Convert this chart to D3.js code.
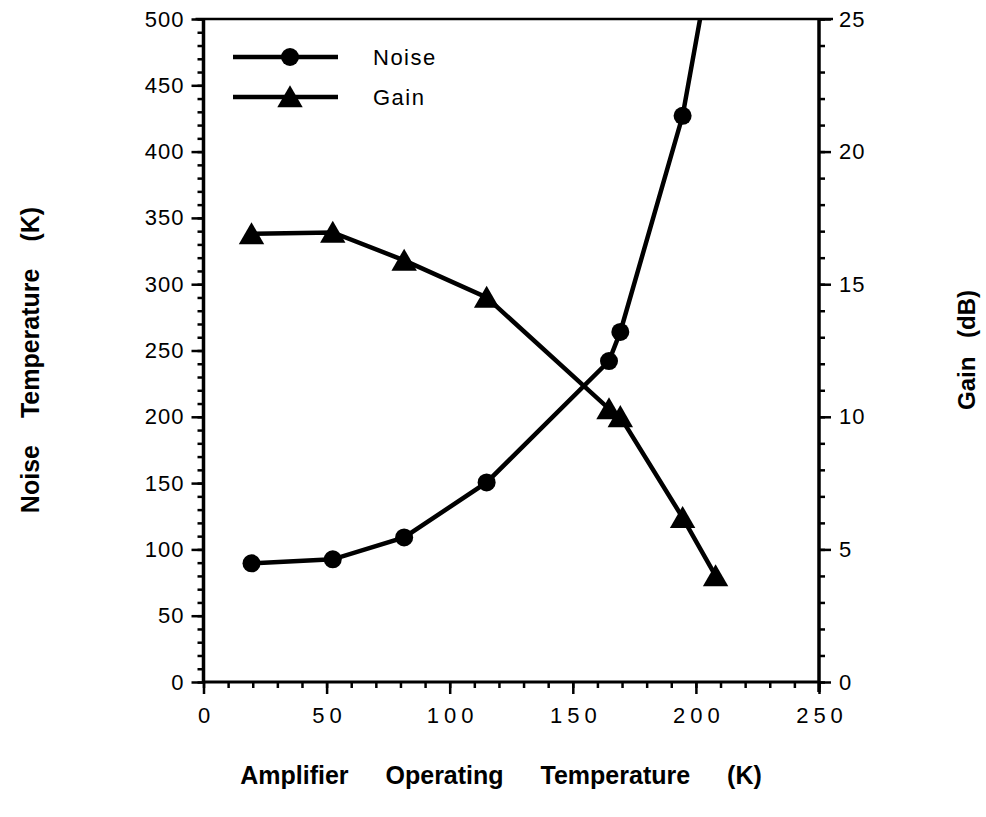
<!DOCTYPE html>
<html>
<head>
<meta charset="utf-8">
<script src="https://cdn.jsdelivr.net/npm/d3@7"></script>
<style>
  body { margin: 0; background: #fff; }
  svg { display: block; }
  .tick text { font-family: "Liberation Sans", Arial, sans-serif; font-size: 22px; fill: #000; }
  .title { font-family: "Liberation Sans", Arial, sans-serif; font-size: 25px; font-weight: bold; fill: #000; }
  .legend text { font-family: "Liberation Sans", Arial, sans-serif; font-size: 22px; letter-spacing: 1.5px; fill: #000; }
</style>
</head>
<body>
<div id="chart"></div>
<script>
// chart data
var temps  = [19.5, 52.5, 81.5, 115, 164.7, 169.3, 194.6, 208];   // amplifier operating temperature (K)
var noiseK = [89.5, 92.5, 109, 150.5, 242, 264, 427, 565];         // noise temperature (K), last one is off the top
var gainDb = [16.9, 16.95, 15.9, 14.5, 10.3, 10.0, 6.2, 4.0];      // gain (dB)

var xTicks = [0, 50, 100, 150, 200, 250];
var yLeftTicks = [0, 50, 100, 150, 200, 250, 300, 350, 400, 450, 500];
var yRightTicks = [0, 5, 10, 15, 20, 25];
var seriesNames = ["Noise", "Gain"];

var width = 986,
    height = 817;

var svg = d3.select("#chart").append("svg")
    .attr("width", width)
    .attr("height", height);

var x = d3.scaleLinear().domain([0, 250]).range([203.5, 819]);
var yL = d3.scaleLinear().domain([0, 500]).range([682, 19]);
var yR = d3.scaleLinear().domain([0, 25]).range([682, 19]);

// clip so the noise curve stops at the top of the frame
svg.append("clipPath").attr("id", "plot")
  .append("rect")
    .attr("x", x(0)).attr("y", yL(500))
    .attr("width", x(250) - x(0)).attr("height", yL(0) - yL(500));

// minor ticks first, then major ticks with labels
function minor(step, max) { return d3.range(0, max + 0.001, step); }

svg.append("g").attr("transform", "translate(0," + yL(0) + ")")
    .call(d3.axisBottom(x).tickValues(minor(10, 250)).tickSize(6).tickFormat(""));
var xAxis = svg.append("g").attr("transform", "translate(0," + yL(0) + ")")
    .call(d3.axisBottom(x).tickValues(xTicks).tickSize(12).tickPadding(13));
xAxis.selectAll(".tick text").style("letter-spacing", "5px").attr("dx", "2.5px");

svg.append("g").attr("transform", "translate(" + x(0) + ",0)")
    .call(d3.axisLeft(yL).tickValues(minor(10, 500)).tickSize(6).tickFormat(""));
var yAxisL = svg.append("g").attr("transform", "translate(" + x(0) + ",0)")
    .call(d3.axisLeft(yL).tickValues(yLeftTicks).tickSize(12).tickPadding(7));
yAxisL.selectAll(".tick text").style("letter-spacing", "1px");

svg.append("g").attr("transform", "translate(" + x(250) + ",0)")
    .call(d3.axisRight(yR).tickValues(minor(1, 25)).tickSize(6).tickFormat(""));
var yAxisR = svg.append("g").attr("transform", "translate(" + x(250) + ",0)")
    .call(d3.axisRight(yR).tickValues(yRightTicks).tickSize(12).tickPadding(8));
yAxisR.selectAll(".tick text").style("letter-spacing", "1px");

svg.selectAll(".domain").remove();
svg.selectAll(".tick line").attr("stroke", "#000").attr("stroke-width", 2.5);

// frame
svg.append("line").attr("x1", x(0)).attr("x2", x(0)).attr("y1", yL(500)).attr("y2", yL(0))
    .attr("stroke", "#000").attr("stroke-width", 3.5);
svg.append("line").attr("x1", x(250)).attr("x2", x(250)).attr("y1", yL(500)).attr("y2", yL(0) + 10)
    .attr("stroke", "#000").attr("stroke-width", 3.5);
svg.append("line").attr("x1", x(0)).attr("x2", x(250) + 1).attr("y1", yL(0)).attr("y2", yL(0))
    .attr("stroke", "#000").attr("stroke-width", 3);
svg.append("line").attr("x1", x(0) - 8).attr("x2", x(250) + 14).attr("y1", yL(500)).attr("y2", yL(500))
    .attr("stroke", "#000").attr("stroke-width", 2.5);

var noise = temps.map(function(t, i) { return [t, noiseK[i]]; });
var gain = temps.map(function(t, i) { return [t, gainDb[i]]; });

var plot = svg.append("g").attr("clip-path", "url(#plot)");

plot.append("path")
    .datum(noise)
    .attr("fill", "none").attr("stroke", "#000").attr("stroke-width", 4.5)
    .attr("d", d3.line().x(function(d) { return x(d[0]); }).y(function(d) { return yL(d[1]); }));

plot.append("path")
    .datum(gain)
    .attr("fill", "none").attr("stroke", "#000").attr("stroke-width", 4.5)
    .attr("d", d3.line().x(function(d) { return x(d[0]); }).y(function(d) { return yR(d[1]); }));

var circleSym = d3.symbol().type(d3.symbolCircle).size(255);
var triSym = d3.symbol().type(d3.symbolTriangle).size(280);

plot.selectAll(".noise-pt").data(noise).enter().append("path")
    .attr("class", "noise-pt")
    .attr("d", circleSym)
    .attr("transform", function(d) { return "translate(" + x(d[0]) + "," + yL(d[1]) + ")"; });

plot.selectAll(".gain-pt").data(gain).enter().append("path")
    .attr("class", "gain-pt")
    .attr("d", triSym)
    .attr("transform", function(d) { return "translate(" + x(d[0]) + "," + (yR(d[1]) + 3) + ")"; });

// legend
var legend = svg.append("g").attr("class", "legend");
var legendY = [57, 97];
legend.selectAll("line").data(seriesNames).enter().append("line")
    .attr("x1", 233).attr("x2", 338)
    .attr("y1", function(d, i) { return legendY[i]; })
    .attr("y2", function(d, i) { return legendY[i]; })
    .attr("stroke", "#000").attr("stroke-width", 4.5);
legend.append("path").attr("d", circleSym).attr("transform", "translate(290," + legendY[0] + ")");
legend.append("path").attr("d", triSym).attr("transform", "translate(290," + (legendY[1] + 3) + ")");
legend.selectAll("text").data(seriesNames).enter().append("text")
    .attr("x", 373)
    .attr("y", function(d, i) { return legendY[i] + 8; })
    .text(function(d) { return d; });

// axis titles
svg.append("text").attr("class", "title")
    .attr("x", 501).attr("y", 784)
    .attr("text-anchor", "middle")
    .style("word-spacing", "30px")
    .text("Amplifier Operating Temperature (K)");

svg.append("text").attr("class", "title")
    .attr("transform", "translate(39,360) rotate(-90)")
    .attr("text-anchor", "middle")
    .style("word-spacing", "20px")
    .text("Noise Temperature (K)");

svg.append("text").attr("class", "title")
    .attr("transform", "translate(975,350) rotate(-90)")
    .attr("text-anchor", "middle")
    .style("font-size", "24px")
    .style("word-spacing", "12px")
    .text("Gain (dB)");
</script>
</body>
</html>
